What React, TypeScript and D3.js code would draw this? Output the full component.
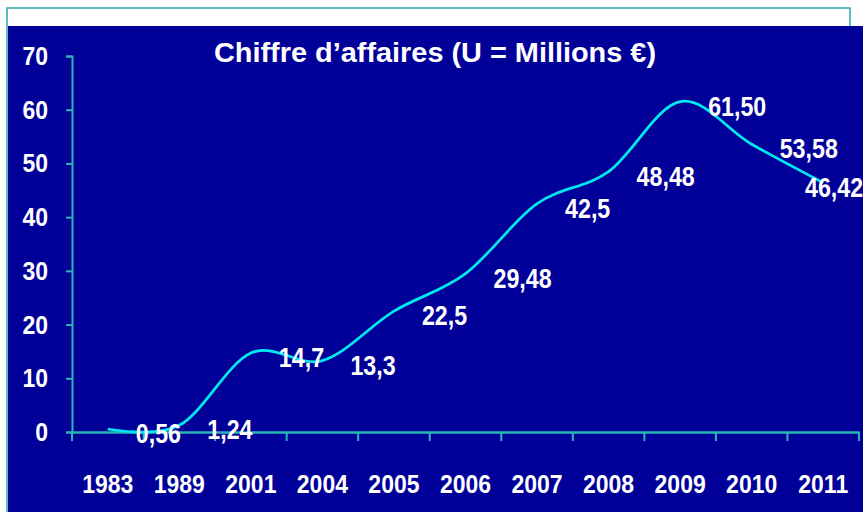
import { useEffect, useRef } from "react";
import * as d3 from "d3";

const YEARS = ["1983", "1989", "2001", "2004", "2005", "2006", "2007", "2008", "2009", "2010", "2011"];
const REVENUE = [0.56, 1.24, 14.7, 13.3, 22.5, 29.48, 42.5, 48.48, 61.5, 53.58, 46.42];
const VALUE_LABELS = ["0,56", "1,24", "14,7", "13,3", "22,5", "29,48", "42,5", "48,48", "61,50", "53,58", "46,42"];
const Y_TICKS = [0, 10, 20, 30, 40, 50, 60, 70];
const TITLE = "Chiffre d\u2019affaires (U = Millions \u20ac)";

const W = 863;
const H = 512;
const FONT = "'Liberation Sans', Arial, sans-serif";

export default function App() {
  const svgRef = useRef<SVGSVGElement>(null);

  useEffect(() => {
    if (!svgRef.current) return;
    const svg = d3.select(svgRef.current);
    svg.selectAll("*").remove();

    const margin = { top: 56, right: 4, bottom: 80, left: 72 };

    // frame
    svg.append("rect").attr("x", 7).attr("y", 8).attr("width", 843).attr("height", 520)
      .attr("fill", "#fff").attr("stroke", "#2aa9a9").attr("stroke-width", 1.5);
    svg.append("rect").attr("x", 8).attr("y", 26).attr("width", W - 8).attr("height", H - 26)
      .attr("fill", "#000099");

    const x = d3.scaleBand().domain(YEARS).range([margin.left, W - margin.right]);
    const y = d3.scaleLinear().domain([0, 70]).range([H - margin.bottom, margin.top]);
    const cx = (d: string) => x(d)! + x.bandwidth() / 2;

    // title
    svg.append("text")
      .attr("x", 435).attr("y", 62)
      .attr("text-anchor", "middle")
      .attr("fill", "#fff").attr("font-family", FONT).attr("font-weight", "bold")
      .attr("font-size", 27)
      .attr("textLength", 442).attr("lengthAdjust", "spacingAndGlyphs")
      .text(TITLE);

    // Y axis
    svg.append("g")
      .attr("transform", `translate(${margin.left},0)`)
      .call(d3.axisLeft(y).tickValues(Y_TICKS).tickSize(6).tickPadding(0).tickFormat(() => ""))
      .call((g) => {
        g.select(".domain").attr("stroke", "#2ab5b5").attr("stroke-width", 2);
        g.selectAll(".tick line").attr("stroke", "#2ab5b5").attr("stroke-width", 2);
      });

    svg.append("g").selectAll("text")
      .data(Y_TICKS)
      .join("text")
      .attr("transform", (d) => `translate(48,${y(d) + 9}) scale(0.92,1)`)
      .attr("text-anchor", "end")
      .attr("fill", "#fff").attr("font-family", FONT).attr("font-weight", "bold")
      .attr("font-size", 25)
      .text((d) => d);

    // X axis
    svg.append("g")
      .attr("transform", `translate(0,${y(0)})`)
      .call(d3.axisBottom(x).tickSize(0).tickFormat(() => ""))
      .call((g) => {
        g.select(".domain").attr("stroke", "#2ab5b5").attr("stroke-width", 2.5);
      });

    const bounds = [...YEARS.map((d) => x(d)!), W - margin.right];
    svg.append("g").selectAll("line")
      .data(bounds)
      .join("line")
      .attr("x1", (d) => d).attr("x2", (d) => d)
      .attr("y1", y(0)).attr("y2", y(0) + 9)
      .attr("stroke", "#2ab5b5").attr("stroke-width", 2);

    svg.append("g").selectAll("text")
      .data(YEARS)
      .join("text")
      .attr("transform", (d) => `translate(${cx(d)},${y(0) + 61}) scale(0.92,1)`)
      .attr("text-anchor", "middle")
      .attr("fill", "#fff").attr("font-family", FONT).attr("font-weight", "bold")
      .attr("font-size", 25)
      .text((d) => d);

    // line
    const pts = YEARS.map((d, i) => ({ year: d, v: REVENUE[i], label: VALUE_LABELS[i] }));
    const line = d3.line<(typeof pts)[0]>()
      .x((d) => cx(d.year))
      .y((d) => y(d.v))
      .curve(d3.curveCardinal.tension(0));

    svg.append("path")
      .datum(pts)
      .attr("fill", "none")
      .attr("stroke", "#00e8f0")
      .attr("stroke-width", 2.75)
      .attr("d", line);

    // value labels
    svg.append("g").selectAll("text")
      .data(pts)
      .join("text")
      .attr("transform", (d) => {
        const px = cx(d.year) + 28;
        const tx = px + 58 > W ? W - 58 : px;
        return `translate(${tx},${y(d.v) + 14}) scale(0.83,1)`;
      })
      .attr("text-anchor", "start")
      .attr("fill", "#fff").attr("font-family", FONT).attr("font-weight", "bold")
      .attr("font-size", 28)
      .text((d) => d.label);
  }, []);

  return (
    <svg
      ref={svgRef}
      width={W}
      height={H}
      style={{ position: "absolute", left: 0, top: 0, display: "block" }}
    />
  );
}
